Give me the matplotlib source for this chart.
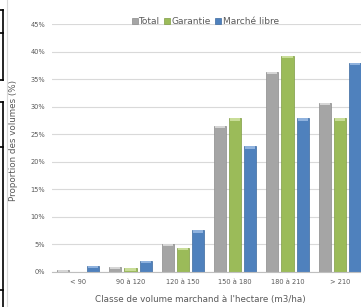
import numpy as np
import matplotlib.pyplot as plt
from matplotlib.lines import Line2D

# classes de volume et proportions (%)
classes = ['< 90', '90 à 120', '120 à 150', '150 à 180', '180 à 210', '> 210']
total = [0.4, 0.9, 5.1, 26.5, 36.4, 30.7]
garantie = [0.0, 0.6, 4.3, 27.9, 39.3, 27.9]
marche_libre = [1.0, 2.0, 7.5, 22.8, 27.9, 38.0]

series = [('Total', total, '#a5a5a5', '#8c8c8c', '#d6d6d6'),
          ('Garantie', garantie, '#9bbb59', '#7f9c45', '#c9dd98'),
          ('Marché libre', marche_libre, '#4f81bd', '#3d6a9f', '#8fb2de')]

fig = plt.figure(figsize=(3.61, 3.07), dpi=100)
ax = fig.add_axes([52/361, 1-271.7/307, 314/361, 247.4/307])

x = np.arange(len(classes))
w = 0.23
step = 0.29
cap = 0.004
for i, (name, vals, col, ecol, light) in enumerate(series):
    v = np.array(vals)/100
    ax.bar(x + (i-1)*step, v, width=w, color=col,
           edgecolor=ecol, linewidth=0.5, zorder=2, label=name)
    # petit reflet clair en haut des barres (effet 3D d'Excel)
    h = np.minimum(v, cap)
    ax.bar(x + (i-1)*step, h, bottom=v-h, width=w*0.85, color=light,
           linewidth=0, zorder=3)

ax.set_xlim(-0.5, len(classes)-0.5)
ax.set_ylim(0, 0.45)
ax.set_yticks(np.arange(0, 0.451, 0.05))
ax.set_yticklabels([f'{int(round(v*100))}%' for v in np.arange(0, 0.451, 0.05)])
ax.set_xticks(x)
ax.set_xticklabels(classes)
ax.tick_params(axis='both', length=0, labelsize=4.8, colors='#595959', pad=5)
ax.grid(axis='y', color='#d9d9d9', linewidth=0.8, zorder=0)
for s in ['top', 'right', 'left']:
    ax.spines[s].set_visible(False)
ax.spines['bottom'].set_color('#bfbfbf')
ax.spines['bottom'].set_linewidth(0.8)

ax.set_ylabel('Proportion des volumes (%)', fontsize=6.3, color='#595959')
ax.yaxis.set_label_coords((18-52)/314, (271.7-140)/247.4)
ax.set_xlabel("Classe de volume marchand à l'hectare (m3/ha)", fontsize=6.3,
              color='#595959')
ax.xaxis.set_label_coords((200-52)/314, -0.095)

handles = [Line2D([], [], marker='s', linestyle='none', markersize=5,
                  markerfacecolor=c, markeredgecolor=e, markeredgewidth=0.5)
           for _, _, c, e, _ in series]
fig.legend(handles, [s[0] for s in series], loc='center', ncol=3,
           bbox_to_anchor=(205/361, 1-22/307), frameon=False, fontsize=6.5,
           handlelength=0.7, handletextpad=0.1, columnspacing=0.5,
           labelcolor='#595959')

# bordures (cadre du graphique et restes de tableau à gauche)
fig.add_artist(Line2D([7/361, 7/361], [0, 1], color='#d9d9d9', linewidth=0.8))
for y0, y1 in [(10, 80), (102, 307)]:
    fig.add_artist(Line2D([2.5/361, 2.5/361], [1-y0/307, 1-y1/307], color='black', linewidth=1.2))
for yy in [10, 33, 80, 102, 147, 290]:
    fig.add_artist(Line2D([0, 3/361], [1-yy/307, 1-yy/307], color='black', linewidth=1.2))

plt.savefig('out.png', dpi=100)
